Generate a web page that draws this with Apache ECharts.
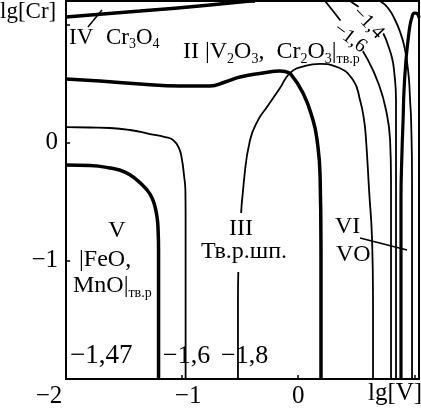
<!DOCTYPE html>
<html>
<head>
<meta charset="utf-8">
<script src="https://cdn.jsdelivr.net/npm/echarts@6/dist/echarts.min.js"></script>
<style>
  html, body { margin: 0; padding: 0; background: #fff; }
  #diagram { width: 421px; height: 409px; }
</style>
</head>
<body>
<div id="diagram"></div>
<script>
// axis ticks (lg[V] across, lg[Cr] up)
const xTicks = [-2, -1, 0];
const yTicks = [0, -1];

// curves, as [lg V, lg Cr]
const curve147 = [[-2.0, -0.189], [-1.793, -0.193], [-1.621, -0.214], [-1.492, -0.248], [-1.388, -0.316],
  [-1.302, -0.400], [-1.259, -0.468], [-1.233, -0.544], [-1.216, -0.629], [-1.208, -0.714],
  [-1.203, -0.908], [-1.203, -1.332], [-1.203, -2.0]];
const curve16Left = [[-2.0, 0.133], [-1.793, 0.129], [-1.621, 0.125], [-1.449, 0.108], [-1.277, 0.074],
  [-1.147, 0.048], [-1.078, 0.023], [-1.027, -0.045], [-1.001, -0.146], [-0.984, -0.273],
  [-0.972, -0.400], [-0.970, -0.612], [-0.970, -0.824], [-0.970, -1.332], [-0.970, -2.0]];
const curve18 = [[-0.519, -2.0], [-0.519, -1.332], [-0.501, -0.739], [-0.467, -0.316], [-0.415, 0.023],
  [-0.346, 0.192], [-0.269, 0.302], [-0.157, 0.463], [-0.071, 0.590], [0.059, 0.650], [0.188, 0.667],
  [0.334, 0.641], [0.472, 0.531], [0.532, 0.362], [0.567, 0.192], [0.584, 0.023], [0.610, -0.400],
  [0.636, -0.824], [0.644, -1.332], [0.644, -2.0]];
const borderTop = [[-2.0, 1.065], [-1.363, 1.115], [-0.760, 1.166], [-0.501, 1.192], [-0.372, 1.2]];
const borderMidLeft = [[-2.0, 0.540], [-1.707, 0.523], [-1.363, 0.497], [-1.018, 0.480], [-0.760, 0.480],
  [-0.630, 0.514], [-0.501, 0.556], [-0.303, 0.590], [-0.157, 0.607], [-0.071, 0.590]];
const borderMidRight = [[-0.071, 0.590], [0.041, 0.421], [0.127, 0.192], [0.162, 0.023], [0.188, -0.273],
  [0.196, -0.908], [0.196, -2.0]];
const curve16Right = [[0.231, 1.2], [0.360, 1.039], [0.489, 0.870], [0.601, 0.700], [0.696, 0.489],
  [0.756, 0.277], [0.791, 0.023], [0.799, -0.316], [0.799, -2.0]];
const curve14Right = [[0.446, 1.2], [0.575, 1.107], [0.687, 0.997], [0.739, 0.912], [0.773, 0.827],
  [0.808, 0.717], [0.825, 0.616], [0.842, 0.362], [0.842, 0.023], [0.842, -2.0]];
const curve12Right = [[0.705, 1.2], [0.773, 1.141], [0.834, 1.039], [0.877, 0.938], [0.911, 0.827],
  [0.937, 0.683], [0.954, 0.531], [0.963, 0.362], [0.972, 0.192], [0.980, -0.316], [0.980, -2.0]];
const borderCap = [[0.885, -2.0], [0.885, -1.332], [0.885, -0.485], [0.894, -0.062], [0.903, 0.192],
  [0.911, 0.446], [0.928, 0.700], [0.946, 0.870], [0.963, 0.997], [0.980, 1.065], [0.997, 1.098],
  [1.015, 1.098], [1.032, 1.081], [1.040, 1.056]];
const leaderIV = [[-1.811, 0.980], [-1.690, 1.124]];
const leaderVI = [[0.532, -0.807], [0.937, -0.908]];

const serif = '"Liberation Serif", "DejaVu Serif", serif';
const minus = v => (v < 0 ? '\u2212' + Math.abs(v) : String(v));

function curve(data, width, smooth) {
  return {
    type: 'line',
    data: data,
    smooth: smooth === undefined ? 0.5 : smooth,
    showSymbol: false,
    silent: true,
    lineStyle: { color: '#000', width: width },
    z: 3
  };
}

function label(text, x, y, size, opts) {
  const o = opts || {};
  return {
    type: 'text',
    x: x, y: y,
    rotation: o.rotation || 0,
    z: 100,
    style: {
      text: text,
      fill: '#000',
      fontFamily: serif,
      fontSize: size,
      align: o.align || 'left',
      verticalAlign: 'middle',
      backgroundColor: o.bg ? '#fff' : 'transparent',
      padding: o.pad || 0,
      rich: {
        s: { fontFamily: serif, fontSize: Math.round(size * 0.6), verticalAlign: 'bottom', lineHeight: Math.round(size * 0.6), fill: '#000' },
        n: { fontFamily: serif, fontSize: size, lineHeight: size + 4, fill: '#000' }
      }
    }
  };
}

const chart = echarts.init(document.getElementById('diagram'));

chart.setOption({
  animation: false,
  backgroundColor: '#fff',
  grid: { left: 66, right: 2, top: 1, bottom: 30, show: true, borderColor: '#000', borderWidth: 2 },
  xAxis: {
    type: 'value', min: -2, max: 1.04, interval: 1,
    splitLine: { show: false },
    axisLine: { onZero: false, lineStyle: { color: '#000', width: 2 } },
    axisTick: { inside: true, length: 4, lineStyle: { color: '#000', width: 1.5 } },
    axisLabel: {
      customValues: xTicks,
      margin: 5,
      color: '#000', fontFamily: serif, fontSize: 25,
      formatter: v => (v === -2 ? '{a|' + minus(v) + '}' : v === -1 ? '{b|' + minus(v) + '}' : minus(v)),
      rich: {
        a: { fontFamily: serif, fontSize: 25, color: '#000', padding: [0, 34, 0, 0] },
        b: { fontFamily: serif, fontSize: 25, color: '#000', padding: [0, 0, 0, 12] }
      }
    }
  },
  yAxis: {
    type: 'value', min: -2, max: 1.2, interval: 1,
    splitLine: { show: false },
    axisLine: { onZero: false, lineStyle: { color: '#000', width: 2 } },
    axisTick: { inside: true, length: 4, lineStyle: { color: '#000', width: 1.5 } },
    axisLabel: {
      customValues: yTicks,
      margin: 8,
      color: '#000', fontFamily: serif, fontSize: 25,
      formatter: v => minus(v)
    }
  },
  series: [
    curve(curve147, 3.5),
    curve(curve16Left, 1.8),
    curve(curve18, 1.8),
    curve(borderTop, 3.5),
    curve(borderMidLeft, 3.5),
    curve(borderMidRight, 3.5),
    curve(curve16Right, 1.8),
    curve(curve14Right, 1.8),
    curve(curve12Right, 1.8),
    curve(borderCap, 3.2),
    curve(leaderIV, 1.5, false),
    curve(leaderVI, 1.5, false)
  ],
  graphic: [
    label('lg[Cr]', 0, 12, 23),
    label('IV', 69, 38, 23),
    label('{n|Cr}{s|3}{n|O}{s|4}', 106, 38, 23),
    label('{n|II |V}{s|2}{n|O}{s|3}{n|,  Cr}{s|2}{n|O}{s|3}{n||}{s|тв.р}', 183, 52, 24),
    label('V', 117, 231, 24, { align: 'center' }),
    label('|FeO,', 79, 260, 24),
    label('{n|MnO|}{s|тв.р}', 73, 286, 24),
    label('III', 241, 228, 24, { align: 'center', bg: true, pad: [4, 2, 2, 2] }),
    label('Тв.р.шп.', 244, 255, 24, { align: 'center', bg: true, pad: [2, 2, 8, 2] }),
    label('VI', 335, 227, 24),
    label('VO', 336, 255, 24),
    label('\u22121,47', 70, 356, 27),
    label('\u22121,6', 163, 356, 26),
    label('\u22121,8', 221, 356, 26),
    label('\u22121,4', 368, 23, 20, { align: 'center', rotation: -0.8, bg: true }),
    label('\u22121,6', 350, 38, 20, { align: 'center', rotation: -0.65, bg: true }),
    label('lg[V]', 368, 393, 25)
  ]
});
</script>
</body>
</html>
